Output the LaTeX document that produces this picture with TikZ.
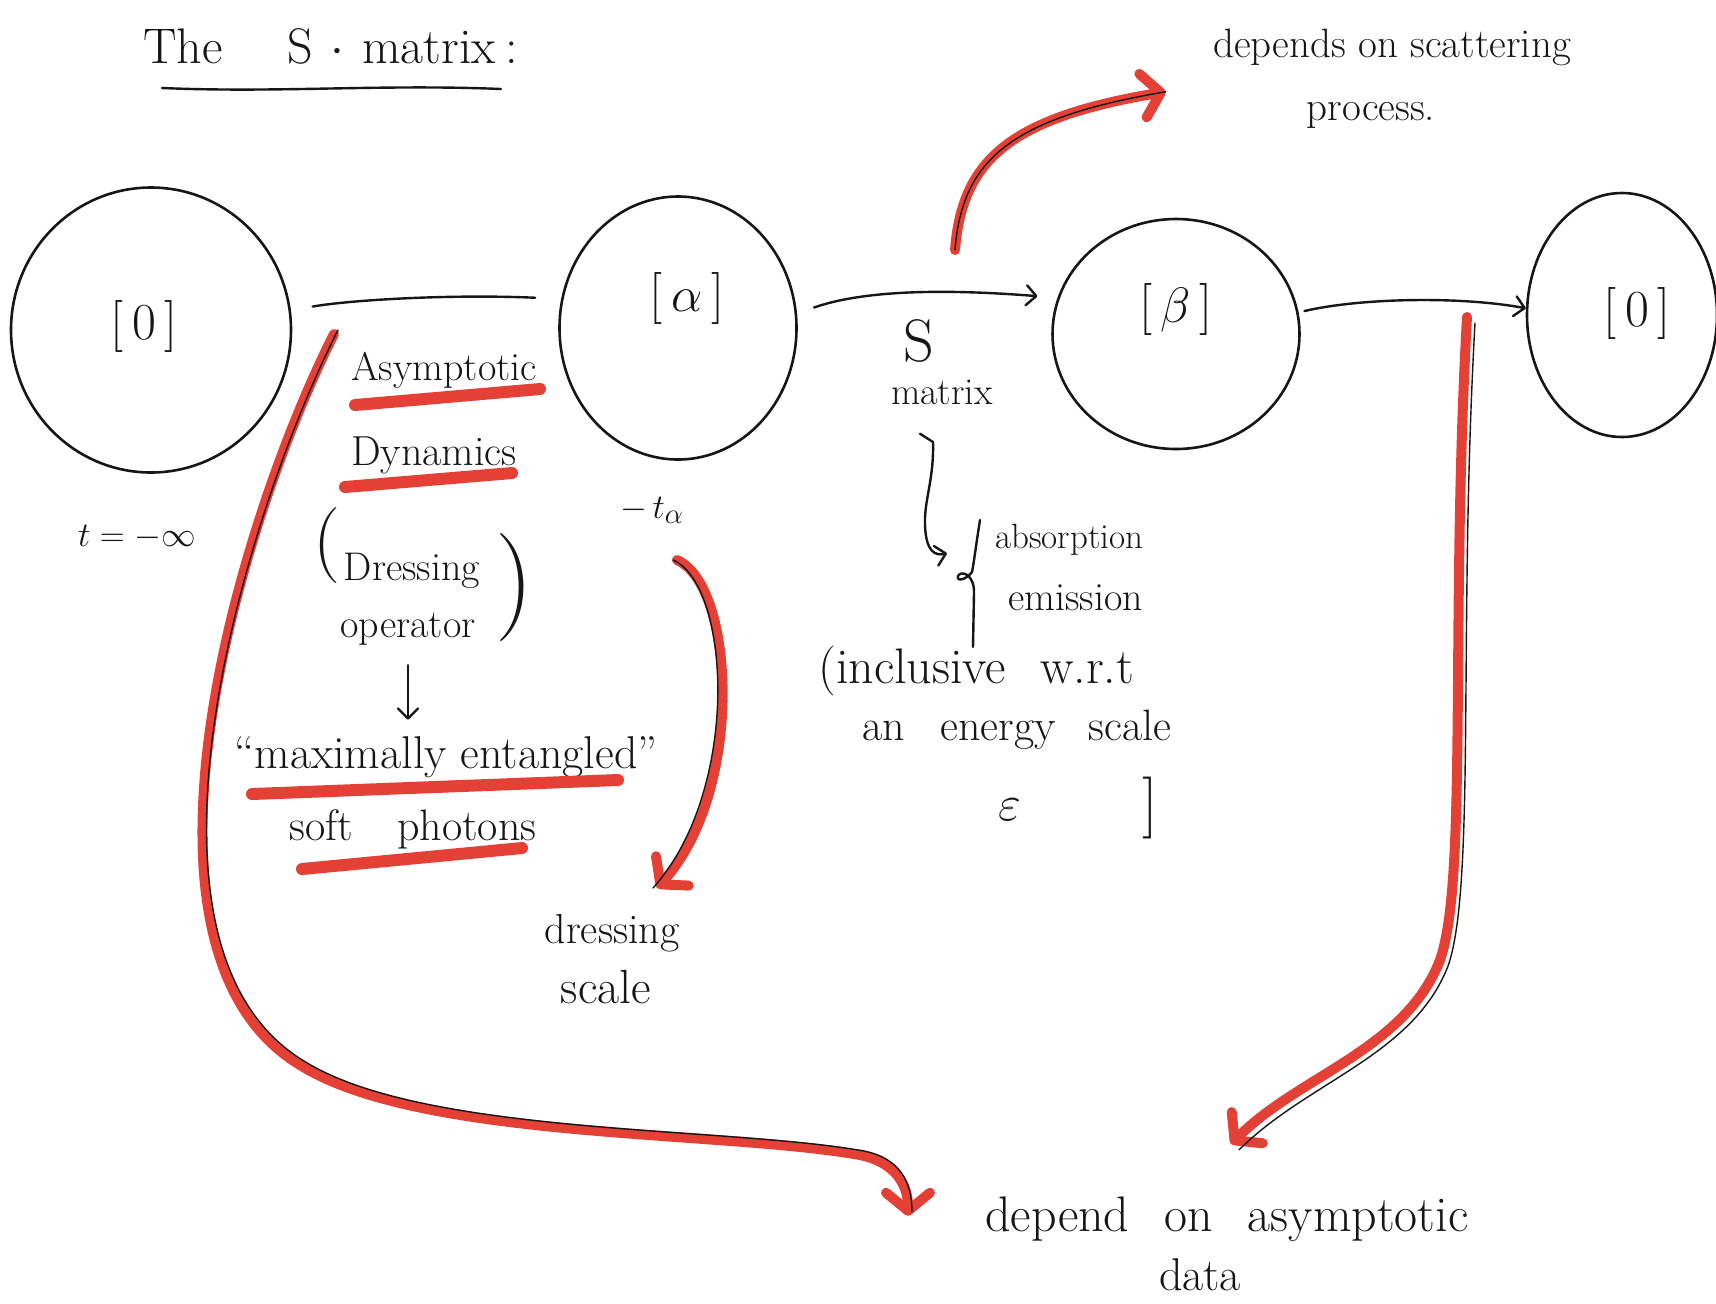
\documentclass[tikz,border=0pt]{standalone}
\usetikzlibrary{shapes.geometric,arrows.meta}
\definecolor{pen}{RGB}{22,22,22}
\definecolor{marker}{RGB}{229,64,54}
\begin{document}
\begin{tikzpicture}[x=0.5pt,y=-0.5pt,
  ink/.style={draw=pen,line width=1.2pt,line cap=round,line join=round},
  pentrace/.style={draw=pen,line width=0.7pt,line cap=round,line join=round},
  hl/.style={draw=marker,line width=6pt,line cap=round,line join=round},
  redarrow/.style={draw=marker,line width=5pt,line cap=round,line join=round,
    -{Straight Barb[length=9pt,width=22pt,round]}},
  inkarrow/.style={ink,-{Straight Barb[length=5pt,width=10pt,round]}},
  txt/.style={text=pen,inner sep=0pt,font=\fontsize{19}{23}\selectfont},
  titlefont/.style={font=\fontsize{25}{29}\selectfont},
  bubble/.style={ellipse,draw=pen,line width=1.3pt,inner sep=0pt}
]
\useasboundingbox[fill=white] (0,0) rectangle (1716,1303);

% ---------- titles ----------
\node[txt,titlefont,anchor=base] (title) at (331,63)
  {The\hspace{1.3em}S\hspace{0.35em}$\cdot$\hspace{0.35em}matrix\hspace{0.2em}:};
\draw[ink] (162,88) .. controls (280,93) and (380,84) .. (501,89);
\node[txt,font=\fontsize{20.5}{24}\selectfont,anchor=base] (dep) at (1392,57) {depends on scattering};
\node[txt,font=\fontsize{20.5}{24}\selectfont,anchor=base] (proc) at (1371,120) {process.};

% ---------- states ----------
\node[bubble,minimum width=140pt,minimum height=142.5pt] (n0) at (151,330) {};
\node[bubble,minimum width=118.5pt,minimum height=131.5pt] (na) at (678,328) {};
\node[bubble,minimum width=123.5pt,minimum height=115pt] (nb) at (1176,334) {};
\node[bubble,minimum width=95pt,minimum height=122pt] (nf) at (1622,315) {};
\node[txt,font=\fontsize{26}{30}\selectfont] (l0) at (144,326) {[\,0\,]};
\node[txt,font=\fontsize{26}{30}\selectfont] (la) at (687,298) {[\,$\alpha$\,]};
\node[txt,font=\fontsize{26}{30}\selectfont] (lb) at (1176,309) {[\,$\beta$\,]};
\node[txt,font=\fontsize{26}{30}\selectfont] (lf) at (1637,313) {[\,0\,]};

\draw[ink,shorten <=11pt,shorten >=13pt] (n0.8) .. controls (350,300) and (450,294) .. (na.166);
\draw[inkarrow,shorten <=9pt,shorten >=10pt] (na.7) .. controls (870,288) and (960,290) .. (nb.163);
\draw[inkarrow,shorten <=3pt] (nb.10) .. controls (1360,298) and (1460,296) .. (nf.176);

% ---------- labels under the states ----------
\node[txt,font=\fontsize{17}{20}\selectfont] (tinf) at (137,537) {$t=-\infty$};
\node[txt] (talpha) at (652,510) {$-\,t_\alpha$};
\node[txt,font=\fontsize{30}{34}\selectfont] (sS) at (919,341) {S};
\node[txt,anchor=base] (smat) at (942,404) {matrix};

% ---------- left column ----------
\node[txt,font=\fontsize{20}{24}\selectfont,anchor=base] (asy) at (444,380) {Asymptotic};
\node[txt,font=\fontsize{21}{24}\selectfont,anchor=base] (dyn) at (434,465) {Dynamics};
\node[txt,font=\fontsize{38}{40}\selectfont] (lpar) at (327,546) {(};
\node[txt,font=\fontsize{20}{24}\selectfont,anchor=base] (dres) at (412,580) {Dressing};
\node[txt,font=\fontsize{20}{24}\selectfont,anchor=base] (oper) at (408,637) {operator};
\node[txt,font=\fontsize{54}{56}\selectfont] (rpar) at (515,588) {)};
\node[txt,font=\fontsize{23}{27}\selectfont,anchor=base] (ment) at (446,768) {``maximally entangled''};
\node[txt,font=\fontsize{22}{26}\selectfont,anchor=base] (soft) at (413,840) {soft\hspace{1em}photons};
\draw[inkarrow,shorten <=10pt,shorten >=8pt] (oper.south) -- (oper.south |- ment.north);

\draw[hl] (355,405) -- (540,389);
\draw[hl] (345,487) -- (512,473);
\draw[hl] (252,794) -- (618,780);
\draw[hl] (302,869) -- (522,848);

% ---------- dressing scale ----------
\node[txt,font=\fontsize{21}{24}\selectfont,anchor=base] (dscale) at (612,943) {dressing};
\node[txt,font=\fontsize{24}{28}\selectfont,anchor=base] (scl) at (606,1003) {scale};

% ---------- S matrix remarks ----------
\node[txt,font=\fontsize{17.5}{20}\selectfont,anchor=base west] (abs) at (995,548) {absorption};
\node[txt,font=\fontsize{20}{24}\selectfont,anchor=base west] (emi) at (1008,610) {emission};
\node[txt,font=\fontsize{25}{28}\selectfont,anchor=base west] (incl) at (818,683) {(inclusive\hspace{0.68em}w.r.t};
\node[txt,font=\fontsize{22}{26}\selectfont,anchor=base west] (ener) at (862,740) {an\hspace{0.8em}energy\hspace{0.75em}scale};
\node[txt,font=\fontsize{30}{34}\selectfont] (eps) at (1010,810) {$\varepsilon$};
\node[txt,font=\fontsize{31}{34}\selectfont] (rbr) at (1150,808) {]};
\draw[ink] (980,520) .. controls (976,545) and (974,562) .. (972,572)
  .. controls (966,580) and (956,582) .. (958,576)
  .. controls (961,570) and (974,574) .. (974,592) -- (973,647);
\draw[inkarrow] ([shift={(-22,29)}]smat.south) -- (933,442)
  .. controls (934,480) and (924,500) .. (925,525)
  .. controls (926,552) and (935,556) .. ([shift={(-48,14)}]abs.west);

% ---------- bottom text ----------
\node[txt,font=\fontsize{25}{29}\selectfont,anchor=base west] (dend) at (985,1231)
  {depend\hspace{0.7em}on\hspace{0.7em}asymptotic};
\node[txt,font=\fontsize{23}{27}\selectfont,anchor=base] (data) at (1200,1290) {data};

% ---------- red marker arrows ----------
\coordinate (rs1) at (955,250);
\coordinate (rs2) at (334,334);
\coordinate (rs3) at (677,560);
\coordinate (rs4) at (1467,317);

\draw[redarrow] (rs1) .. controls (962,160) and (1010,118) .. ([shift={(-47,26)}]dep.south west);
\draw[pentrace] (rs1) .. controls (962,160) and (1010,118) .. ([shift={(-47,26)}]dep.south west);

\draw[redarrow] (rs2) .. controls (240,520) and (110,950) .. (300,1065)
  .. controls (420,1140) and (720,1130) .. (860,1155)
  .. controls (895,1162) and (908,1185) .. ([shift={(-77,-3)}]dend.west);
\draw[pentrace,transform canvas={xshift=2pt,yshift=2pt}] (rs2) .. controls (240,520) and (110,950) .. (300,1065)
  .. controls (420,1140) and (720,1130) .. (860,1155)
  .. controls (895,1162) and (908,1185) .. ([shift={(-77,-3)}]dend.west);

\draw[redarrow] (rs3) .. controls (735,585) and (745,790) .. ([shift={(45,-55)}]dscale.base);
\draw[pentrace,transform canvas={xshift=-2pt}] (rs3) .. controls (735,585) and (745,790) .. ([shift={(45,-55)}]dscale.base);

\draw[redarrow] (rs4) .. controls (1450,620) and (1468,880) .. (1440,960)
  .. controls (1405,1050) and (1300,1075) .. ([shift={(246,-52)}]dend.north west);
\draw[pentrace,transform canvas={xshift=4pt,yshift=-3pt}] (rs4) .. controls (1450,620) and (1468,880) .. (1440,960)
  .. controls (1405,1050) and (1300,1075) .. ([shift={(246,-52)}]dend.north west);
\end{tikzpicture}
\end{document}
